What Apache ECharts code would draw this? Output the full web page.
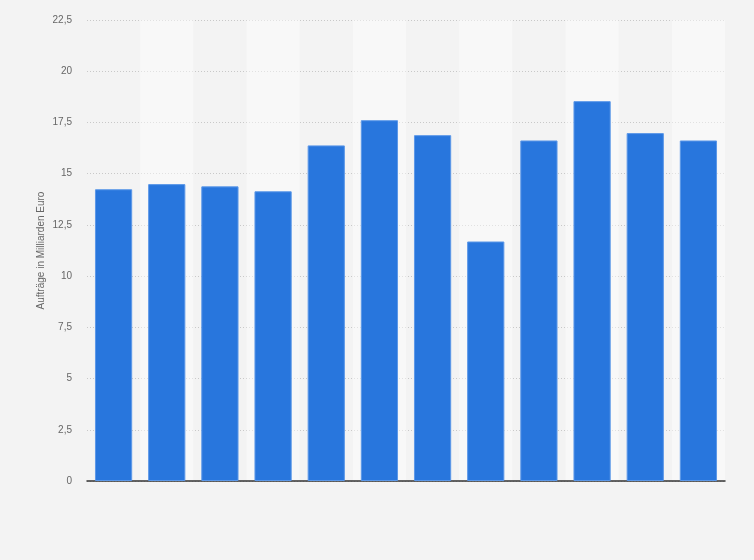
<!DOCTYPE html>
<html>
<head>
<meta charset="utf-8">
<script src="https://cdn.jsdelivr.net/npm/echarts@6/dist/echarts.min.js"></script>
<style>
html,body{margin:0;padding:0;background:#f3f3f3;}
#chart{width:754px;height:560px;}
</style>
</head>
<body>
<div id="chart"></div>
<script>
const categories = ['2010','2011','2012','2013','2014','2015','2016','2017','2018','2019','2020','2021'];
const values = [14.24, 14.49, 14.38, 14.14, 16.38, 17.61, 16.88, 11.69, 16.62, 18.54, 16.98, 16.62];
const yTicks = [0, 2.5, 5, 7.5, 10, 12.5, 15, 17.5, 20, 22.5];
const yAxisTitle = 'Aufträge in Milliarden Euro';

const chart = echarts.init(document.getElementById('chart'));
chart.setOption({
  backgroundColor: '#f3f3f3',
  animation: false,
  grid: { left: 87, right: 29, top: 20, bottom: 79 },
  xAxis: {
    type: 'category',
    data: categories,
    axisLine: { show: true, lineStyle: { color: '#333', width: 1.5 } },
    axisTick: { show: false },
    axisLabel: { show: false },
    splitArea: { show: true, areaStyle: { color: ['rgba(0,0,0,0)', 'rgba(255,255,255,0.45)'] } }
  },
  yAxis: {
    type: 'value',
    min: yTicks[0],
    max: yTicks[yTicks.length - 1],
    interval: 2.5,
    name: yAxisTitle,
    nameLocation: 'middle',
    nameGap: 41,
    nameMoveOverlap: false,
    nameTextStyle: { color: '#666', fontSize: 10, fontFamily: 'Arial, Liberation Sans, sans-serif' },
    axisLine: { show: false },
    axisTick: { show: false },
    axisLabel: {
      color: '#666', fontSize: 10, margin: 15,
      fontFamily: 'Arial, Liberation Sans, sans-serif',
      formatter: v => String(v).replace('.', ',')
    },
    splitLine: { show: true, lineStyle: { color: '#c8c8c8', type: [1, 2], width: 1 } }
  },
  series: [{
    type: 'bar',
    data: values,
    barCategoryGap: '30%',
    itemStyle: { color: '#2876dd', borderColor: '#5c98e8', borderWidth: 1 }
  }]
});
</script>
</body>
</html>
